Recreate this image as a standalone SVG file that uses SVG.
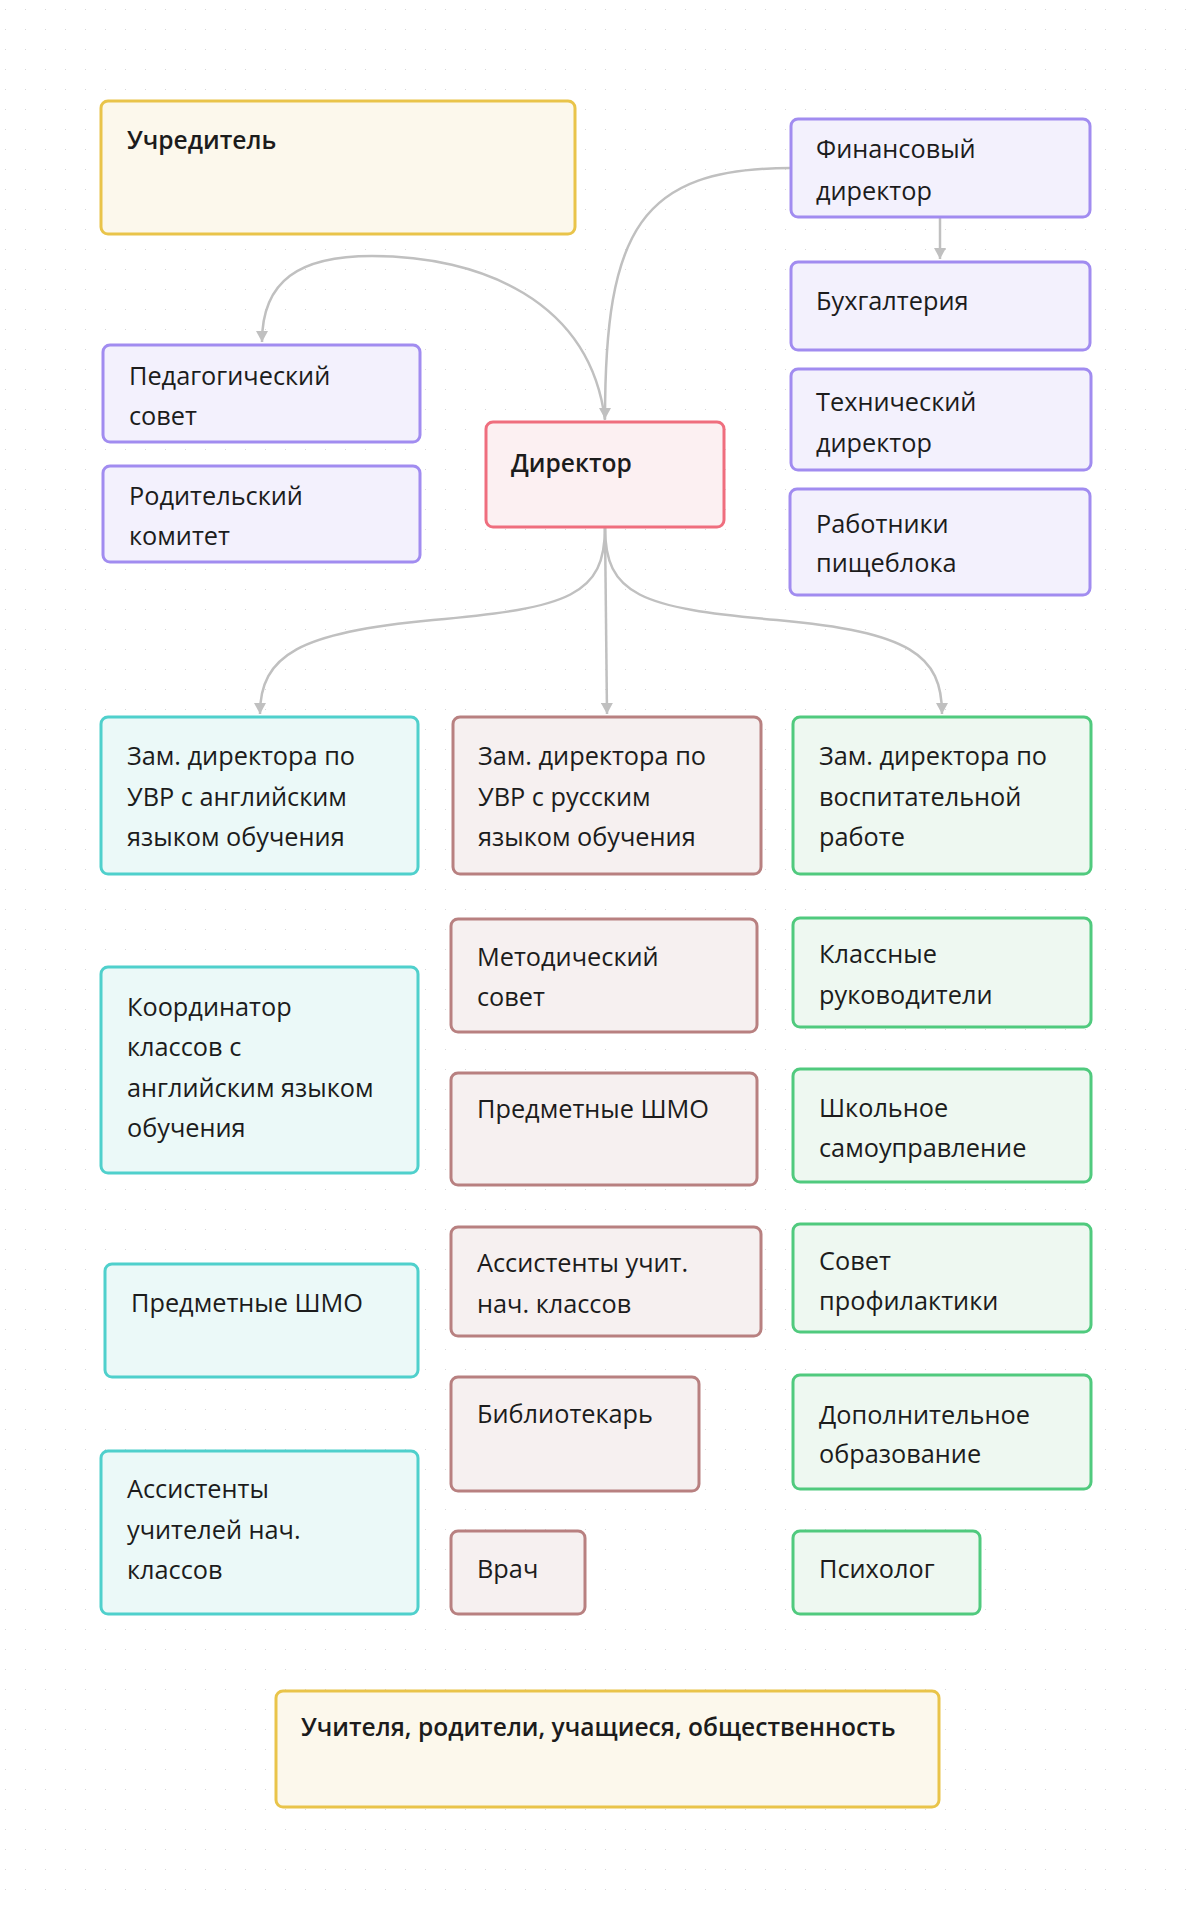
<svg xmlns="http://www.w3.org/2000/svg" width="1192" height="1909" viewBox="0 0 1192 1909">
<defs>
<pattern id="dots" x="0" y="0" width="20" height="20" patternUnits="userSpaceOnUse"><rect x="5" y="9" width="1" height="1" fill="#d9d9d9"/></pattern>
<marker id="arr" markerUnits="userSpaceOnUse" markerWidth="13" markerHeight="12" refX="11" refY="6" orient="auto"><path d="M0,0 L11,6 L0,12 z" fill="#c0c0c0"/></marker>
<style>
.n rect{stroke-width:3}
.y rect{fill:#fcf8ec;stroke:#e9c44a}
.p rect{fill:#f3f1fd;stroke:#a18cf0}
.r rect{fill:#fcf0f2;stroke:#ef6e7e}
.c rect{fill:#ebf9f8;stroke:#4fd0cc}
.b rect{fill:#f6f0f0;stroke:#b88080}
.g rect{fill:#eef8f1;stroke:#50ca7e}
text{font-family:"Open Sans","Noto Sans",sans-serif;font-size:25.3px;fill:#1c1c1c}
.bold text{font-weight:600;font-size:24.6px}
.e{fill:none;stroke:#c0c0c0;stroke-width:2.5}
</style>
</defs>
<rect width="1192" height="1909" fill="#ffffff"/>
<rect width="1192" height="1909" fill="url(#dots)"/>
<g id="edges">
<path class="e" d="M791,168 C640,168 605,230 605,419" marker-end="url(#arr)"/>
<path class="e" d="M605,420 C590,300 480,256 372,256 C300,256 262,280 262,342" marker-end="url(#arr)"/>
<path class="e" d="M940,217 L940,259" marker-end="url(#arr)"/>
<path class="e" d="M605,527 C605,595 570,608 433,620 C300,632 260,655 260,714" marker-end="url(#arr)"/>
<path class="e" d="M605,527 L607,714" marker-end="url(#arr)"/>
<path class="e" d="M605,527 C605,595 640,608 777,620 C910,632 942,655 942,714" marker-end="url(#arr)"/>
</g>
<g id="uchreditel" class="n y bold"><rect x="101" y="101" width="474" height="133" rx="7"/><text x="127" y="149">Учредитель</text></g>
<g id="findir" class="n p"><rect x="791" y="119" width="299" height="98" rx="7"/><text x="816" y="158">Финансовый</text><text x="816" y="200">директор</text></g>
<g id="buh" class="n p"><rect x="791" y="262" width="299" height="88" rx="7"/><text x="816" y="310">Бухгалтерия</text></g>
<g id="techdir" class="n p"><rect x="791" y="369" width="300" height="101" rx="7"/><text x="816" y="411">Технический</text><text x="816" y="452">директор</text></g>
<g id="pishcheblok" class="n p"><rect x="790" y="489" width="300" height="106" rx="7"/><text x="816" y="533">Работники</text><text x="816" y="572">пищеблока</text></g>
<g id="pedsovet" class="n p"><rect x="103" y="345" width="317" height="97" rx="7"/><text x="129" y="385">Педагогический</text><text x="129" y="425">совет</text></g>
<g id="rodkom" class="n p"><rect x="103" y="466" width="317" height="96" rx="7"/><text x="129" y="505">Родительский</text><text x="129" y="545">комитет</text></g>
<g id="direktor" class="n r bold"><rect x="486" y="422" width="238" height="105" rx="7"/><text x="511" y="472">Директор</text></g>
<g id="zam_eng" class="n c"><rect x="101" y="717" width="317" height="157" rx="7"/><text x="127" y="765">Зам. директора по</text><text x="127" y="806">УВР с английским</text><text x="127" y="846">языком обучения</text></g>
<g id="zam_rus" class="n b"><rect x="453" y="717" width="308" height="157" rx="7"/><text x="478" y="765">Зам. директора по</text><text x="478" y="806">УВР с русским</text><text x="478" y="846">языком обучения</text></g>
<g id="zam_vosp" class="n g"><rect x="793" y="717" width="298" height="157" rx="7"/><text x="819" y="765">Зам. директора по</text><text x="819" y="806">воспитательной</text><text x="819" y="846">работе</text></g>
<g id="koord" class="n c"><rect x="101" y="967" width="317" height="206" rx="7"/><text x="127" y="1016">Координатор</text><text x="127" y="1056">классов с</text><text x="127" y="1097">английским языком</text><text x="127" y="1137">обучения</text></g>
<g id="metod" class="n b"><rect x="451" y="919" width="306" height="113" rx="7"/><text x="477" y="966">Методический</text><text x="477" y="1006">совет</text></g>
<g id="shmo_rus" class="n b"><rect x="451" y="1073" width="306" height="112" rx="7"/><text x="477" y="1118">Предметные ШМО</text></g>
<g id="klass" class="n g"><rect x="793" y="918" width="298" height="109" rx="7"/><text x="819" y="963">Классные</text><text x="819" y="1004">руководители</text></g>
<g id="samoupr" class="n g"><rect x="793" y="1069" width="298" height="113" rx="7"/><text x="819" y="1117">Школьное</text><text x="819" y="1157">самоуправление</text></g>
<g id="shmo_eng" class="n c"><rect x="105" y="1264" width="313" height="113" rx="7"/><text x="131" y="1312">Предметные ШМО</text></g>
<g id="assist_rus" class="n b"><rect x="451" y="1227" width="310" height="109" rx="7"/><text x="477" y="1272">Ассистенты учит.</text><text x="477" y="1313">нач. классов</text></g>
<g id="profil" class="n g"><rect x="793" y="1224" width="298" height="108" rx="7"/><text x="819" y="1270">Совет</text><text x="819" y="1310">профилактики</text></g>
<g id="bibl" class="n b"><rect x="451" y="1377" width="248" height="114" rx="7"/><text x="477" y="1423">Библиотекарь</text></g>
<g id="dopobr" class="n g"><rect x="793" y="1375" width="298" height="114" rx="7"/><text x="819" y="1424">Дополнительное</text><text x="819" y="1463">образование</text></g>
<g id="assist_eng" class="n c"><rect x="101" y="1451" width="317" height="163" rx="7"/><text x="127" y="1498">Ассистенты</text><text x="127" y="1539">учителей нач.</text><text x="127" y="1579">классов</text></g>
<g id="vrach" class="n b"><rect x="451" y="1531" width="134" height="83" rx="7"/><text x="477" y="1578">Врач</text></g>
<g id="psiholog" class="n g"><rect x="793" y="1531" width="187" height="83" rx="7"/><text x="819" y="1578">Психолог</text></g>
<g id="obshchestvo" class="n y bold"><rect x="276" y="1691" width="663" height="116" rx="7"/><text x="301" y="1736">Учителя, родители, учащиеся, общественность</text></g>
</svg>
